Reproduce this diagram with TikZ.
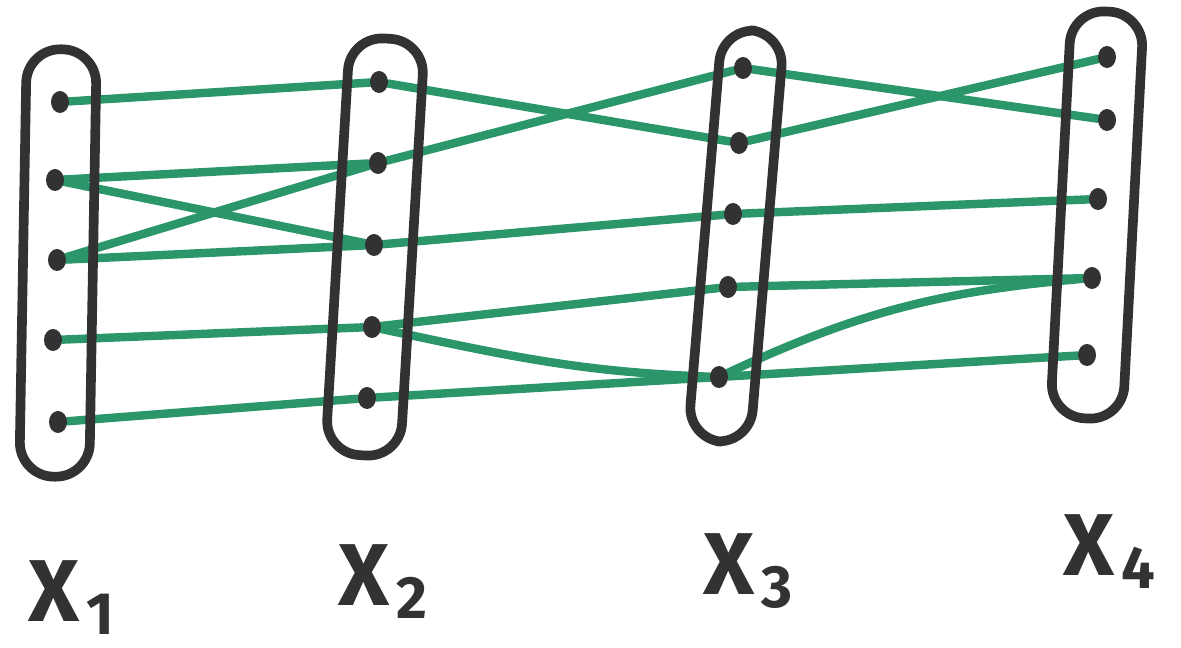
\documentclass[tikz,border=0pt]{standalone}
\usepackage{fontspec}
\setmainfont{Fira Sans}
\usetikzlibrary{shapes.geometric}
\definecolor{ink}{RGB}{50,50,50}
\definecolor{grn}{RGB}{42,150,106}
\pgfdeclarelayer{edgelayer}
\pgfsetlayers{edgelayer,main}
\tikzset{
  setbox/.style={draw=ink, line width=5.5pt, rectangle, rounded corners=0.68cm, inner sep=0pt},
  dotnode/.style={ellipse, fill=ink, inner sep=0pt, minimum width=0.36cm, minimum height=0.44cm},
  edge/.style={draw=grn, line width=4.8pt, line cap=round},
  lab/.style={text=ink, inner sep=0pt, anchor=base west, font=\bfseries}
}
\newcommand{\mylab}[1]{{\fontsize{50}{50}\selectfont X}\hspace{4pt}\raisebox{-7pt}{\fontsize{34}{34}\selectfont #1}}
\begin{document}
\begin{tikzpicture}[x=0.02cm,y=-0.02cm]
\useasboundingbox (0,0) rectangle (1181,648);
% sets
\node[setbox, minimum width=1.4cm, minimum height=8.55cm, rotate=-1] (E1) at (58,263) {};
\node[setbox, minimum width=1.5cm, minimum height=8.35cm, rotate=-3.4] (E2) at (375,247) {};
\node[setbox, minimum width=1.25cm, minimum height=8.25cm, rotate=-4.8] (E3) at (736,236) {};
\node[setbox, minimum width=1.45cm, minimum height=8.15cm, rotate=-3] (E4) at (1097,215) {};
% dots
\node[dotnode] (a1) at (60,102) {};
\node[dotnode] (a2) at (55,180) {};
\node[dotnode] (a3) at (57,260) {};
\node[dotnode] (a4) at (53,340) {};
\node[dotnode] (a5) at (58,422) {};
\node[dotnode] (b1) at (379,82) {};
\node[dotnode] (b2) at (378,163) {};
\node[dotnode] (b3) at (374,245) {};
\node[dotnode] (b4) at (372,327) {};
\node[dotnode] (b5) at (367,398) {};
\node[dotnode] (c1) at (743,68) {};
\node[dotnode] (c2) at (739,143) {};
\node[dotnode] (c3) at (733,214) {};
\node[dotnode] (c4) at (728,287) {};
\node[dotnode] (c5) at (719,377) {};
\node[dotnode] (d1) at (1107,57) {};
\node[dotnode] (d2) at (1107,120) {};
\node[dotnode] (d3) at (1098,199) {};
\node[dotnode] (d4) at (1092,278) {};
\node[dotnode] (d5) at (1087,355) {};
% edges
\begin{pgfonlayer}{edgelayer}
\draw[edge] (a1) -- (b1);
\draw[edge] (a2) -- (b2);
\draw[edge] (a2) -- (b3);
\draw[edge] (a3) -- (b2);
\draw[edge] (a3) -- (b3);
\draw[edge] (a4) -- (b4);
\draw[edge] (a5) -- (b5);
\draw[edge] (b1) -- (c2);
\draw[edge] (b2) -- (c1);
\draw[edge] (b3) -- (c3);
\draw[edge] (b4) -- (c4);
\draw[edge] (b4) to[out=-12, in=178] (c5);
\draw[edge] (b5) -- (c5);
\draw[edge] (c1) -- (d2);
\draw[edge] (c2) -- (d1);
\draw[edge] (c3) -- (d3);
\draw[edge] (c4) -- (d4);
\draw[edge] (c5) to[out=25, in=185] (d4);
\draw[edge] (c5) -- (d5);
\end{pgfonlayer}
% labels
\node[lab] (L1) at (28,622) {\mylab{1}};
\node[lab] (L2) at (338,606) {\mylab{2}};
\node[lab] (L3) at (703,595) {\mylab{3}};
\node[lab] (L4) at (1063,576) {\mylab{4}};
\end{tikzpicture}
\end{document}
